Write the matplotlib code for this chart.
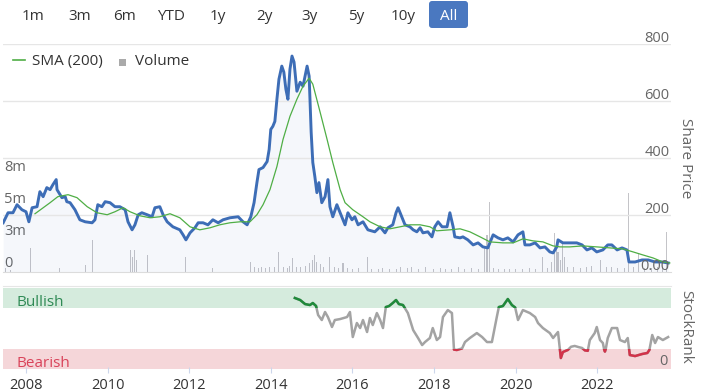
import numpy as np
import matplotlib
matplotlib.use("Agg")
import matplotlib.pyplot as plt
import matplotlib.transforms as mtransforms
from matplotlib.patches import FancyBboxPatch, Rectangle
from matplotlib.lines import Line2D

plt.rcParams['font.family'] = ['Open Sans', 'DejaVu Sans']

# ---- share price (decimal year, price) ----
price_year = [
    2007.44, 2007.56, 2007.68, 2007.78, 2007.90, 2008.00, 2008.07, 2008.15, 2008.27, 2008.34,
    2008.42, 2008.51, 2008.59, 2008.66, 2008.74, 2008.76, 2008.88, 2008.96, 2009.00, 2009.08,
    2009.20, 2009.32, 2009.45, 2009.62, 2009.69, 2009.76, 2009.86, 2009.94, 2010.06, 2010.18,
    2010.30, 2010.43, 2010.50, 2010.60, 2010.67, 2010.75, 2010.84, 2010.97, 2011.09, 2011.16,
    2011.28, 2011.36, 2011.46, 2011.60, 2011.77, 2011.85, 2011.92, 2012.02, 2012.14, 2012.22,
    2012.34, 2012.46, 2012.58, 2012.71, 2012.83, 2013.00, 2013.20, 2013.32, 2013.42, 2013.51,
    2013.59, 2013.66, 2013.71, 2013.81, 2013.91, 2013.96, 2014.00, 2014.05, 2014.10, 2014.15,
    2014.20, 2014.27, 2014.32, 2014.37, 2014.42, 2014.47, 2014.52, 2014.57, 2014.64, 2014.72,
    2014.79, 2014.86, 2014.89, 2014.94, 2014.99, 2015.03, 2015.08, 2015.13, 2015.18, 2015.25,
    2015.33, 2015.40, 2015.45, 2015.52, 2015.62, 2015.70, 2015.82, 2015.89, 2015.99, 2016.06,
    2016.14, 2016.26, 2016.38, 2016.55, 2016.68, 2016.80, 2016.87, 2016.99, 2017.07, 2017.12,
    2017.22, 2017.29, 2017.41, 2017.49, 2017.58, 2017.66, 2017.73, 2017.85, 2017.95, 2018.02,
    2018.10, 2018.20, 2018.32, 2018.39, 2018.47, 2018.51, 2018.64, 2018.71, 2018.83, 2018.96,
    2019.08, 2019.20, 2019.32, 2019.45, 2019.57, 2019.69, 2019.81, 2019.94, 2020.06, 2020.18,
    2020.23, 2020.35, 2020.48, 2020.60, 2020.72, 2020.84, 2020.92, 2021.01, 2021.04, 2021.16,
    2021.33, 2021.50, 2021.63, 2021.75, 2021.87, 2021.99, 2022.14, 2022.26, 2022.36, 2022.49,
    2022.61, 2022.73, 2022.78, 2022.93, 2023.10, 2023.25, 2023.42, 2023.59, 2023.74]
price = [
    172.7, 207.9, 207.9, 236.1, 218.5, 211.4, 176.2, 225.5, 229.1, 281.9,
    264.3, 296.0, 289.0, 306.6, 324.2, 289.0, 260.8, 264.3, 246.7, 243.2,
    218.5, 183.2, 176.2, 172.7, 183.2, 236.1, 229.1, 246.7, 243.2, 229.1,
    229.1, 218.5, 176.2, 148.0, 165.6, 200.9, 207.9, 200.9, 193.8, 225.5,
    229.1, 200.9, 176.2, 158.6, 148.0, 130.4, 112.8, 137.4, 155.1, 172.7,
    172.7, 165.6, 183.2, 172.7, 183.2, 190.3, 193.8, 176.2, 165.6, 193.8,
    243.2, 313.6, 359.4, 366.5, 387.6, 429.9, 500.4, 511.0, 528.6, 606.1,
    676.6, 722.4, 701.3, 641.4, 606.1, 711.8, 757.7, 736.5, 634.3, 666.0,
    651.9, 701.3, 722.4, 687.2, 489.8, 384.1, 334.8, 278.4, 313.6, 243.2,
    264.3, 324.2, 229.1, 193.8, 236.1, 207.9, 165.6, 207.9, 183.2, 193.8,
    165.6, 176.2, 148.0, 141.0, 158.6, 137.4, 155.1, 165.6, 207.9, 225.5,
    190.3, 165.6, 158.6, 148.0, 141.0, 155.1, 137.4, 141.0, 123.3, 158.6,
    176.2, 158.6, 158.6, 207.9, 158.6, 123.3, 119.8, 123.3, 112.8, 95.1,
    102.2, 88.1, 84.6, 130.4, 119.8, 112.8, 119.8, 105.7, 130.4, 141.0,
    95.1, 95.1, 102.2, 84.6, 88.1, 70.5, 67.0, 88.1, 112.8, 102.2,
    102.2, 102.2, 95.1, 77.5, 84.6, 70.5, 77.5, 95.1, 95.1, 77.5,
    84.6, 77.5, 35.2, 35.2, 42.3, 42.3, 35.2, 35.2, 31.7]

# ---- 200 day simple moving average ----
sma_year = [
    2008.22, 2008.59, 2008.78, 2009.03, 2009.25, 2009.50, 2009.74, 2009.99, 2010.18, 2010.38,
    2010.55, 2010.79, 2011.04, 2011.28, 2011.53, 2011.77, 2012.02, 2012.26, 2012.51, 2012.75,
    2013.00, 2013.25, 2013.49, 2013.66, 2013.81, 2013.98, 2014.15, 2014.30, 2014.47, 2014.64,
    2014.79, 2014.94, 2015.03, 2015.21, 2015.38, 2015.52, 2015.70, 2015.82, 2016.01, 2016.26,
    2016.43, 2016.68, 2016.92, 2017.17, 2017.41, 2017.66, 2017.90, 2018.07, 2018.39, 2018.64,
    2018.88, 2019.13, 2019.37, 2019.69, 2019.94, 2020.18, 2020.43, 2020.67, 2020.92, 2021.09,
    2021.33, 2021.65, 2021.99, 2022.31, 2022.63, 2022.88, 2023.12, 2023.37, 2023.61, 2023.78]
sma = [
    204.4, 243.2, 264.3, 271.3, 260.8, 229.1, 207.9, 200.9, 211.4, 225.5,
    211.4, 197.3, 190.3, 193.8, 204.4, 190.3, 158.6, 148.0, 155.1, 165.6,
    172.7, 176.2, 176.2, 200.9, 236.1, 289.0, 370.0, 465.2, 546.2, 606.1,
    651.9, 680.1, 659.0, 560.3, 465.2, 384.1, 289.0, 243.2, 218.5, 193.8,
    176.2, 158.6, 151.5, 158.6, 165.6, 165.6, 158.6, 144.5, 148.0, 151.5,
    141.0, 123.3, 105.7, 102.2, 102.2, 116.3, 109.2, 105.7, 91.6, 88.1,
    88.1, 91.6, 88.1, 84.6, 81.1, 70.5, 59.9, 49.3, 35.2, 31.7]

# ---- volume (millions) ----
vol_year = [
    2007.49, 2007.61, 2008.12, 2008.83, 2009.45, 2009.62, 2010.55, 2010.60, 2010.65, 2010.70,
    2010.97, 2011.90, 2012.56, 2013.51, 2013.59, 2013.69, 2013.78, 2013.88, 2013.98, 2014.08,
    2014.20, 2014.30, 2014.40, 2014.47, 2014.54, 2014.64, 2014.74, 2014.84, 2014.96, 2015.03,
    2015.08, 2015.13, 2015.21, 2015.30, 2015.45, 2015.55, 2015.65, 2015.77, 2015.89, 2016.01,
    2016.14, 2016.36, 2016.48, 2016.63, 2016.75, 2016.92, 2017.07, 2017.19, 2017.34, 2017.46,
    2017.61, 2017.80, 2017.98, 2018.15, 2018.29, 2018.44, 2018.59, 2018.76, 2018.93, 2019.08,
    2019.25, 2019.30, 2019.37, 2019.45, 2019.57, 2019.72, 2019.86, 2020.01, 2020.16, 2020.35,
    2020.50, 2020.65, 2020.79, 2020.89, 2020.96, 2021.01, 2021.04, 2021.09, 2021.14, 2021.19,
    2021.28, 2021.43, 2021.58, 2021.73, 2021.87, 2022.07, 2022.22, 2022.36, 2022.51, 2022.66,
    2022.78, 2022.88, 2023.02, 2023.17, 2023.34, 2023.49, 2023.61, 2023.71]
volume = [
    0.33, 0.15, 2.0, 0.33, 0.6, 2.7, 1.8, 1.25, 1.8, 1.0,
    1.4, 1.25, 0.33, 0.85, 0.4, 0.35, 0.4, 0.33, 0.4, 0.4,
    1.67, 0.4, 0.33, 0.5, 1.17, 0.4, 0.4, 0.5, 0.75, 1.0,
    1.4, 0.85, 0.65, 0.4, 1.25, 0.4, 0.33, 0.75, 0.33, 0.25,
    0.33, 1.25, 0.25, 0.25, 0.33, 0.25, 0.25, 0.4, 0.33, 0.4,
    0.25, 0.4, 0.25, 0.33, 0.25, 0.25, 0.4, 0.25, 0.33, 0.25,
    2.1, 3.1, 5.8, 0.33, 0.25, 0.25, 0.25, 0.25, 0.25, 0.33,
    0.25, 1.25, 0.33, 0.85, 3.25, 2.1, 1.67, 1.0, 2.4, 1.25,
    0.4, 0.4, 0.33, 0.4, 0.5, 1.0, 0.4, 0.4, 0.33, 0.33,
    6.6, 0.4, 1.6, 0.33, 0.33, 0.4, 0.33, 3.3]

# ---- StockRank ----
rank_year = [
    2014.59, 2014.72, 2014.84, 2014.96, 2015.03, 2015.11, 2015.16, 2015.25, 2015.33, 2015.40,
    2015.50, 2015.57, 2015.70, 2015.87, 2015.94, 2016.01, 2016.11, 2016.19, 2016.26, 2016.36,
    2016.43, 2016.50, 2016.60, 2016.68, 2016.75, 2016.82, 2016.90, 2016.99, 2017.07, 2017.14,
    2017.24, 2017.36, 2017.49, 2017.61, 2017.71, 2017.78, 2017.90, 2017.97, 2018.07, 2018.15,
    2018.22, 2018.34, 2018.44, 2018.49, 2018.56, 2018.69, 2018.76, 2018.88, 2019.05, 2019.18,
    2019.30, 2019.42, 2019.54, 2019.59, 2019.69, 2019.81, 2019.91, 2019.99, 2020.06, 2020.18,
    2020.35, 2020.48, 2020.55, 2020.67, 2020.84, 2020.92, 2021.04, 2021.11, 2021.16, 2021.28,
    2021.36, 2021.45, 2021.55, 2021.63, 2021.70, 2021.77, 2021.82, 2021.94, 2021.99, 2022.07,
    2022.14, 2022.17, 2022.19, 2022.21, 2022.26, 2022.36, 2022.49, 2022.56, 2022.68, 2022.75,
    2022.80, 2022.93, 2023.10, 2023.23, 2023.28, 2023.35, 2023.42, 2023.49, 2023.61, 2023.74]
rank = [
    87.7, 85.2, 80.2, 79.0, 81.5, 77.8, 66.7, 60.5, 70.4, 64.2,
    51.9, 60.5, 61.7, 64.2, 70.4, 39.5, 56.8, 50.6, 60.5, 45.7,
    63.0, 54.3, 69.1, 60.5, 50.6, 76.5, 77.8, 81.5, 85.2, 80.2,
    79.0, 69.1, 48.1, 38.3, 29.6, 33.3, 38.3, 50.6, 35.8, 39.5,
    64.2, 72.8, 69.1, 24.0, 23.5, 25.5, 33.3, 38.3, 44.4, 39.5,
    33.3, 33.3, 64.2, 76.5, 77.8, 86.4, 79.0, 76.0, 60.5, 72.8,
    69.1, 64.2, 56.8, 50.6, 44.4, 38.3, 45.7, 13.6, 21.0, 23.5,
    27.5, 28.5, 27.0, 26.0, 23.0, 22.5, 35.8, 44.4, 51.9, 35.8,
    32.1, 24.5, 21.5, 24.5, 38.3, 50.6, 50.6, 35.8, 33.3, 38.3,
    17.3, 16.0, 18.5, 19.8, 23.5, 42.0, 32.1, 39.5, 35.8, 39.5]

buttons = ["1m", "3m", "6m", "YTD", "1y", "2y", "3y", "5y", "10y", "All"]
button_x = [33, 80, 125, 171, 218, 264, 310, 356, 403, 449]
price_ticks = [200, 400, 600, 800]
price_tick_labels = ["200", "400", "600", "800"]
vol_ticks = [0, 8 / 3, 16 / 3, 8]
vol_tick_labels = ["0", "3m", "5m", "8m"]
year_ticks = [2008, 2010, 2012, 2014, 2016, 2018, 2020, 2022]

W, H = 701, 392
fig = plt.figure(figsize=(W / 100, H / 100), dpi=100)


def box(x0, y0, x1, y1):
    # pixel box, top-left origin -> figure fraction rect
    return [x0 / W, 1 - y1 / H, (x1 - x0) / W, (y1 - y0) / H]


x_lo, x_hi = 2007.436, 2023.81
grid_c = "#e6e6e6"
label_c = "#666666"
text_c = "#333333"

# volume underneath, price on top
ax_vol = fig.add_axes(box(3, 44, 671, 272))
ax = fig.add_axes(box(3, 44, 671, 272), facecolor="none")
ax_rank = fig.add_axes(box(3, 286, 671, 370))

ax_vol.bar(vol_year, volume, width=0.025, color="#c4c4c8", linewidth=0)
ax_vol.set_xlim(x_lo, x_hi)
ax_vol.set_ylim(0, 19)
ax_vol.axis("off")

ax.set_xlim(x_lo, x_hi)
ax.set_ylim(0, 800)
ax.set_yticks(price_ticks)
ax.grid(axis="y", color=grid_c, linewidth=1)
ax.tick_params(left=False, labelleft=False, bottom=False, labelbottom=False)
for s in ["top", "left", "right"]:
    ax.spines[s].set_visible(False)
ax.spines["bottom"].set_color("#dcdcdc")

ax.fill_between(price_year, price, 0, color="#3b6cb7", alpha=0.05, linewidth=0)
ax.plot(price_year, price, color="#3d6db6", lw=2.1, solid_joinstyle="round")
ax.plot(sma_year, sma, color="#4fae45", lw=0.9)

# right axis labels (inside plot, above gridlines)
lab_tr = mtransforms.offset_copy(ax.get_yaxis_transform(), fig=fig, x=0, y=2, units="dots")
for v, t in zip([0] + price_ticks, ["0.00"] + price_tick_labels):
    ax.text(0.9975, v, t, transform=lab_tr, ha="right", va="baseline",
            fontsize=10.5, color=label_c)

vol_tr = mtransforms.offset_copy(ax_vol.get_yaxis_transform(), fig=fig, x=0, y=5, units="dots")
for v, t in zip(vol_ticks, vol_tick_labels):
    ax_vol.text(0.0015, v, t, transform=vol_tr, ha="left", va="baseline",
                fontsize=10.5, color=label_c)

# StockRank panel
ax_rank.set_xlim(x_lo, x_hi)
ax_rank.set_ylim(-1.2, 102.5)
ax_rank.axhspan(75, 100, color="#d5ebdd", lw=0)
ax_rank.axhspan(0, 25, color="#f5d6d9", lw=0)
ax_rank.plot(rank_year, rank, color="#a3a3a3", lw=1.8)
green = ax_rank.plot(rank_year, rank, color="#1f8a3a", lw=1.8)[0]
green.set_clip_path(Rectangle((x_lo, 75), x_hi - x_lo, 50, transform=ax_rank.transData))
red = ax_rank.plot(rank_year, rank, color="#d2334a", lw=1.8)[0]
red.set_clip_path(Rectangle((x_lo, -10), x_hi - x_lo, 35, transform=ax_rank.transData))

for s in ["left", "right", "bottom"]:
    ax_rank.spines[s].set_visible(False)
ax_rank.spines["top"].set_color(grid_c)
ax_rank.set_yticks([])
ax_rank.set_xticks(year_ticks)
ax_rank.set_xticklabels([str(y) for y in year_ticks])
ax_rank.tick_params(axis="x", direction="inout", length=5, color="#ccd6eb",
                    labelcolor=text_c, labelsize=10.5, pad=3)

fig.text(16 / W, 1 - 306 / H, "Bullish", color="#2f8a55", fontsize=11, va="baseline")
fig.text(16 / W, 1 - 367 / H, "Bearish", color="#d9435a", fontsize=11, va="baseline")
fig.text(668 / W, 1 - 365 / H, "0", color=label_c, fontsize=10.5, ha="right", va="baseline")

# axis titles on the right
fig.text(686 / W, 1 - 158 / H, "Share Price", rotation=270, ha="center", va="center",
         color=label_c, fontsize=11)
fig.text(686 / W, 1 - 327 / H, "StockRank", rotation=270, ha="center", va="center",
         color=label_c, fontsize=11)

# legend
fig.add_artist(Line2D([13 / W, 25 / W], [1 - 60 / H, 1 - 60 / H], color="#4fae45", lw=1.2))
fig.text(32 / W, 1 - 65 / H, "SMA (200)", color=text_c, fontsize=11, va="baseline")
fig.add_artist(Rectangle((119 / W, 1 - 66 / H), 7 / W, 7 / H, color="#aaaaaa", lw=0))
fig.text(135 / W, 1 - 65 / H, "Volume", color=text_c, fontsize=11, va="baseline")

# range selector buttons
fig.add_artist(FancyBboxPatch((4.29, 3.64), 0.39, 0.27, boxstyle="round,pad=0,rounding_size=0.03",
                              transform=fig.dpi_scale_trans, facecolor="#4a78c0", edgecolor="none"))
for b, bx in zip(buttons, button_x):
    fig.text(bx / W, 1 - 20.5 / H, b, ha="center", va="baseline", fontsize=11,
             color="white" if b == "All" else text_c)

fig.savefig("out.png", dpi=100)
